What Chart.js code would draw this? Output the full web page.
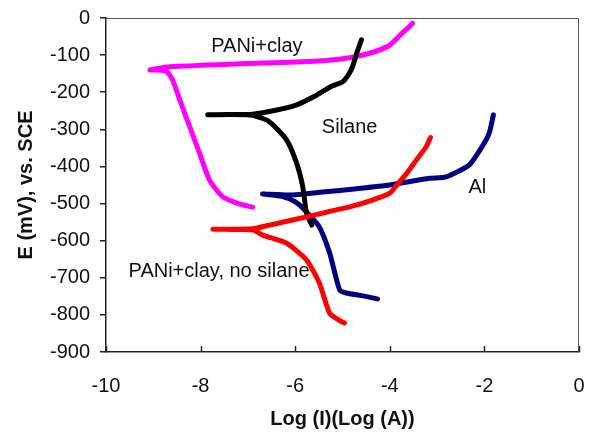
<!DOCTYPE html>
<html>
<head>
<meta charset="utf-8">
<script src="https://cdn.jsdelivr.net/npm/chart.js@4/dist/chart.umd.min.js"></script>
<style>
  html, body { margin: 0; padding: 0; background: #fff; }
  #wrap { width: 593px; height: 433px; }
</style>
</head>
<body>
<div id="wrap"><canvas id="chart" width="593" height="433"></canvas></div>
<script>
// Tafel curves (x = log I, y = E in mV)
var clayX = [-3.52, -3.6, -3.73, -4.0, -4.3, -4.58, -5.0, -5.42, -6.1, -6.8, -7.5, -8.23, -8.7, -9.07, -8.9, -8.71, -8.59, -8.44, -8.23, -8.02, -7.81, -7.53, -7.2, -6.9];
var clayY = [-14, -25, -40, -73, -90, -100, -110, -115, -119, -122, -125, -129, -132, -140, -140, -145, -167, -221, -293, -365, -437, -482, -500, -510];

var silaneX = [-4.6, -4.7, -4.79, -4.9, -5.0, -5.25, -5.55, -5.97, -6.39, -6.9, -7.4, -7.85, -7.4, -6.9, -6.54, -6.18, -5.97, -5.84, -5.76, -5.65];
var silaneY = [-59, -95, -132, -158, -172, -185, -208, -234, -248, -259, -260, -261, -260, -262, -280, -329, -391, -455, -526, -558];

var alX = [-1.81, -1.9, -2.05, -2.32, -2.81, -3.16, -4.0, -4.7, -5.42, -6.12, -6.69, -6.3, -6.0, -5.84, -5.49, -5.27, -5.06, -4.92, -4.6, -4.26];
var alY = [-261, -311, -347, -396, -428, -432, -450, -460, -469, -477, -474, -480, -495, -512, -563, -634, -733, -741, -748, -757];

var noSilX = [-3.14, -3.23, -3.44, -3.65, -3.8, -4.0, -4.4, -4.85, -5.3, -5.76, -6.54, -6.9, -7.3, -7.74, -7.3, -6.9, -6.69, -6.18, -5.76, -5.49, -5.27, -5.1, -4.96];
var noSilY = [-322, -347, -383, -420, -442, -472, -492, -509, -522, -536, -558, -568, -569, -569, -570, -571, -585, -607, -652, -714, -796, -812, -822];

var xTicks = [-10, -8, -6, -4, -2, 0];

// curve labels placed in data coordinates
var labels = [
    { text: 'PANi+clay', x: -6.81, y: -78 },
    { text: 'Silane', x: -4.85, y: -294 },
    { text: 'Al', x: -2.15, y: -458 },
    { text: 'PANi+clay, no silane', x: -7.61, y: -684 }
];

function toPoints(xs, ys) {
    var pts = [];
    for (var i = 0; i < xs.length; i++) {
        pts.push({ x: xs[i], y: ys[i] });
    }
    return pts;
}

function curve(name, xs, ys, color) {
    return {
        label: name,
        data: toPoints(xs, ys),
        borderColor: color,
        backgroundColor: color,
        borderWidth: 5,
        borderCapStyle: 'round',
        borderJoinStyle: 'round',
        showLine: true,
        pointRadius: 0,
        tension: 0.2
    };
}

var FONT = '"Liberation Sans", Arial, sans-serif';

var overlay = {
    id: 'overlay',
    beforeDatasetsDraw: function(chart) {
        var ctx = chart.ctx;
        var a = chart.chartArea;
        var xs = chart.scales.x, ys = chart.scales.y;
        ctx.save();
        // plot frame (top and right)
        ctx.strokeStyle = '#555';
        ctx.lineWidth = 1;
        ctx.beginPath();
        ctx.moveTo(a.left, a.top + 0.5);
        ctx.lineTo(a.right - 0.5, a.top + 0.5);
        ctx.lineTo(a.right - 0.5, a.bottom);
        ctx.stroke();
        // x tick marks pointing up into the plot
        ctx.strokeStyle = '#222';
        ctx.lineWidth = 1.5;
        xTicks.forEach(function(v) {
            var px = Math.round(xs.getPixelForValue(v)) + 0.5;
            ctx.beginPath();
            ctx.moveTo(px, a.bottom);
            ctx.lineTo(px, a.bottom - 6);
            ctx.stroke();
        });
        // curve labels
        ctx.fillStyle = '#111';
        ctx.font = '20px ' + FONT;
        ctx.textAlign = 'center';
        ctx.textBaseline = 'middle';
        labels.forEach(function(l) {
            ctx.fillText(l.text, xs.getPixelForValue(l.x), ys.getPixelForValue(l.y));
        });
        ctx.restore();
    }
};

var ctx = document.getElementById('chart').getContext('2d');
var myChart = new Chart(ctx, {
    type: 'scatter',
    data: {
        datasets: [
            curve('PANi+clay, no silane', noSilX, noSilY, '#ff0000'),
            curve('Silane', silaneX, silaneY, '#000000'),
            curve('Al', alX, alY, '#000080'),
            curve('PANi+clay', clayX, clayY, '#ff00ff')
        ]
    },
    options: {
        responsive: false,
        animation: false,
        layout: { padding: { top: 18, right: 14, left: 0, bottom: 0 } },
        plugins: {
            legend: { display: false },
            tooltip: { enabled: false }
        },
        scales: {
            x: {
                type: 'linear',
                min: -10,
                max: 0,
                afterBuildTicks: function(scale) {
                    scale.ticks = xTicks.map(function(v) { return { value: v }; });
                },
                afterFit: function(scale) {
                    scale.height = 81;
                    scale.paddingLeft = 0;
                    scale.paddingRight = 0;
                },
                grid: { display: false, drawTicks: false },
                border: { display: true, color: '#222', width: 1.5 },
                ticks: {
                    padding: 22,
                    color: '#111',
                    font: { family: FONT, size: 20 },
                    maxRotation: 0
                },
                title: {
                    display: true,
                    text: 'Log (I)(Log (A))',
                    color: '#111',
                    font: { family: FONT, size: 20, weight: 'bold' },
                    padding: { top: 2, bottom: 2 }
                }
            },
            y: {
                type: 'linear',
                min: -900,
                max: 0,
                afterFit: function(scale) {
                    scale.width = 106;
                    scale.paddingTop = 0;
                    scale.paddingBottom = 0;
                },
                grid: {
                    display: true,
                    drawOnChartArea: false,
                    drawTicks: true,
                    tickLength: 6,
                    color: '#222',
                    lineWidth: 1.5
                },
                border: { display: true, color: '#222', width: 1.5 },
                ticks: {
                    stepSize: 100,
                    padding: 10,
                    color: '#111',
                    font: { family: FONT, size: 20 }
                },
                title: {
                    display: true,
                    text: 'E (mV), vs. SCE',
                    color: '#111',
                    font: { family: FONT, size: 20, weight: 'bold' },
                    padding: { top: 14, bottom: 14 }
                }
            }
        }
    },
    plugins: [overlay]
});
</script>
</body>
</html>
